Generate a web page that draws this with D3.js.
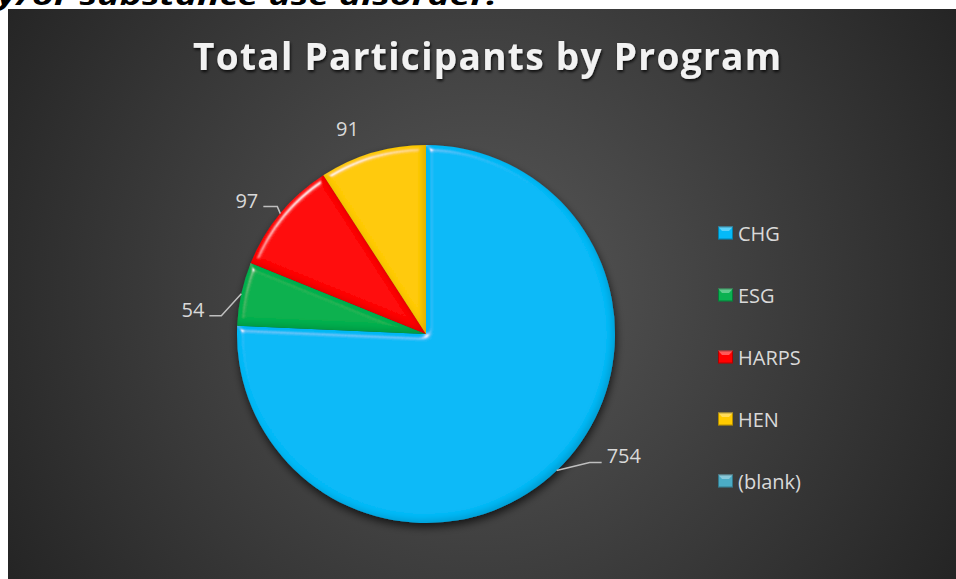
<!DOCTYPE html>
<html>
<head>
<meta charset="utf-8">
<script src="https://cdn.jsdelivr.net/npm/d3@7"></script>
<style>
  html, body { margin: 0; padding: 0; background: #ffffff; }
  svg { display: block; }
</style>
</head>
<body>
<svg id="chart" width="956" height="579"></svg>
<script>
// ---- data ----
const categories = ["CHG", "ESG", "HARPS", "HEN", "(blank)"];
const values = [754, 54, 97, 91, 0];
const sliceColors = ["#05BAF8", "#0BB150", "#FF0000", "#FFCA00", "#4BACC6"];
const chartTitle = "Total Participants by Program";
const topText = "y/or substance use disorder.";

// ---- layout ----
const frame = { x: 8, y: 9, w: 948, h: 570 };
const cx = 426, cy = 334, R = 189;
// label offsets relative to the point on the arc rim at each slice's mid angle
const labelLayout = [
  { tx: 50, ty: -15, anchor: "start", leader: [[33, -8], [45, -8]] },
  { tx: -37, ty: 16, anchor: "end", leader: [[-20, 22], [-32, 22]] },
  { tx: -22, ty: -13, anchor: "end", leader: [[-3, -7], [-17, -7]] },
  { tx: -25, ty: -24, anchor: "middle", leader: null },
  null
];

const svg = d3.select("#chart");
const defs = svg.append("defs");

const bg = defs.append("radialGradient").attr("id", "bgGrad")
  .attr("gradientUnits", "userSpaceOnUse")
  .attr("cx", 480).attr("cy", 290).attr("r", 560);
bg.append("stop").attr("offset", "0%").attr("stop-color", "#585858");
bg.append("stop").attr("offset", "100%").attr("stop-color", "#242424");

// bevel filter
const bev = defs.append("filter").attr("id", "bevel")
  .attr("x", "-10%").attr("y", "-10%").attr("width", "120%").attr("height", "120%");
bev.append("feGaussianBlur").attr("in", "SourceAlpha").attr("stdDeviation", 3).attr("result", "b");
const spec = bev.append("feSpecularLighting").attr("in", "b").attr("surfaceScale", 4)
  .attr("specularConstant", 0.7).attr("specularExponent", 70)
  .attr("lighting-color", "#ffffff").attr("result", "s");
spec.append("feDistantLight").attr("azimuth", 235).attr("elevation", 45);
bev.append("feComposite").attr("in", "s").attr("in2", "SourceAlpha").attr("operator", "in").attr("result", "sIn");
bev.append("feOffset").attr("in", "b").attr("dx", -3).attr("dy", -3).attr("result", "ob");
bev.append("feComposite").attr("in", "SourceAlpha").attr("in2", "ob").attr("operator", "out").attr("result", "edge");
bev.append("feFlood").attr("flood-color", "#000").attr("flood-opacity", 0.3).attr("result", "fl");
bev.append("feComposite").attr("in", "fl").attr("in2", "edge").attr("operator", "in").attr("result", "shadow");
const m = bev.append("feMerge");
m.append("feMergeNode").attr("in", "SourceGraphic");
m.append("feMergeNode").attr("in", "shadow");
m.append("feMergeNode").attr("in", "sIn");

// drop shadow
const ds = defs.append("filter").attr("id", "dshadow")
  .attr("x", "-20%").attr("y", "-20%").attr("width", "140%").attr("height", "140%");
ds.append("feGaussianBlur").attr("in", "SourceAlpha").attr("stdDeviation", 4).attr("result", "b");
ds.append("feOffset").attr("in", "b").attr("dx", 1).attr("dy", 4).attr("result", "o");
ds.append("feComponentTransfer").attr("in", "o").attr("result", "o2")
  .append("feFuncA").attr("type", "linear").attr("slope", 0.7);
const dm = ds.append("feMerge");
dm.append("feMergeNode").attr("in", "o2");
dm.append("feMergeNode").attr("in", "SourceGraphic");

const ts = defs.append("filter").attr("id", "tshadow")
  .attr("x", "-5%").attr("y", "-20%").attr("width", "110%").attr("height", "150%");
ts.append("feGaussianBlur").attr("in", "SourceAlpha").attr("stdDeviation", 1.5).attr("result", "b");
ts.append("feOffset").attr("in", "b").attr("dx", 1).attr("dy", 2).attr("result", "o");
ts.append("feComponentTransfer").attr("in", "o").attr("result", "o2")
  .append("feFuncA").attr("type", "linear").attr("slope", 0.8);
const tm = ts.append("feMerge");
tm.append("feMergeNode").attr("in", "o2");
tm.append("feMergeNode").attr("in", "SourceGraphic");

// cropped heading text above the chart (it is cut off in the original too)
svg.append("text")
  .attr("x", -3).attr("y", 5)
  .attr("textLength", 500).attr("lengthAdjust", "spacingAndGlyphs")
  .style("font-family", "'Open Sans', 'Liberation Sans', sans-serif")
  .style("font-weight", 700).style("font-style", "italic")
  .style("font-size", "26px").attr("fill", "#000")
  .text(topText);

// chart frame
svg.append("rect")
  .attr("x", frame.x).attr("y", frame.y).attr("width", frame.w).attr("height", frame.h)
  .attr("fill", "url(#bgGrad)");

// title
svg.append("text")
  .attr("x", 193).attr("y", 70)
  .attr("textLength", 588).attr("lengthAdjust", "spacing")
  .style("font-family", "'Open Sans', sans-serif")
  .style("font-weight", 700).style("font-size", "37px")
  .attr("fill", "#f2f2f2").attr("filter", "url(#tshadow)")
  .text(chartTitle);

// pie
const pie = d3.pie().sort(null).value(d => d)(values);
const arc = d3.arc().innerRadius(0).outerRadius(R);

const pieG = svg.append("g").attr("transform", `translate(${cx},${cy})`);
const shadowG = pieG.append("g").attr("filter", "url(#dshadow)");
shadowG.selectAll("path.slice")
  .data(pie.filter(d => d.value > 0))
  .join("path")
  .attr("class", "slice")
  .attr("d", arc)
  .attr("fill", d => sliceColors[d.index])
  .attr("filter", "url(#bevel)");

// data labels
const labelFont = "'Open Sans', sans-serif";
pie.forEach((d, i) => {
  const L = labelLayout[i];
  if (!L || d.value <= 0) return;
  const a = (d.startAngle + d.endAngle) / 2;
  const px = cx + R * Math.sin(a), py = cy - R * Math.cos(a);
  if (L.leader) {
    const pts = [[px, py]].concat(L.leader.map(o => [px + o[0], py + o[1]]));
    svg.append("path")
      .attr("d", d3.line()(pts))
      .attr("fill", "none").attr("stroke", "#bfbfbf").attr("stroke-width", 1.5);
  }
  svg.append("text")
    .attr("x", px + L.tx).attr("y", py + L.ty)
    .attr("text-anchor", L.anchor).attr("dominant-baseline", "central")
    .style("font-family", labelFont).style("font-size", "20px")
    .attr("fill", "#d9d9d9")
    .text(values[i]);
});

// legend
const legY = d3.scalePoint().domain(categories).range([233, 481]);
const leg = svg.append("g");
categories.forEach((c, i) => {
  const y = legY(c);
  const g = leg.append("g");
  g.append("rect").attr("x", 718).attr("y", y - 6.5).attr("width", 15).attr("height", 13)
    .attr("fill", sliceColors[i]);
  g.append("path")
    .attr("d", `M718,${y - 6.5}L733,${y - 6.5}L729,${y - 2}L722,${y - 2}Z`)
    .attr("fill", "#ffffff").attr("opacity", 0.35);
  g.append("rect").attr("x", 718.5).attr("y", y - 6).attr("width", 14).attr("height", 12)
    .attr("fill", "none").attr("stroke", "#000").attr("stroke-opacity", 0.3);
  g.append("text").attr("x", 738).attr("y", y)
    .attr("dominant-baseline", "central")
    .style("font-family", labelFont).style("font-size", "20px")
    .attr("fill", "#d9d9d9")
    .text(c);
});
</script>
</body>
</html>
